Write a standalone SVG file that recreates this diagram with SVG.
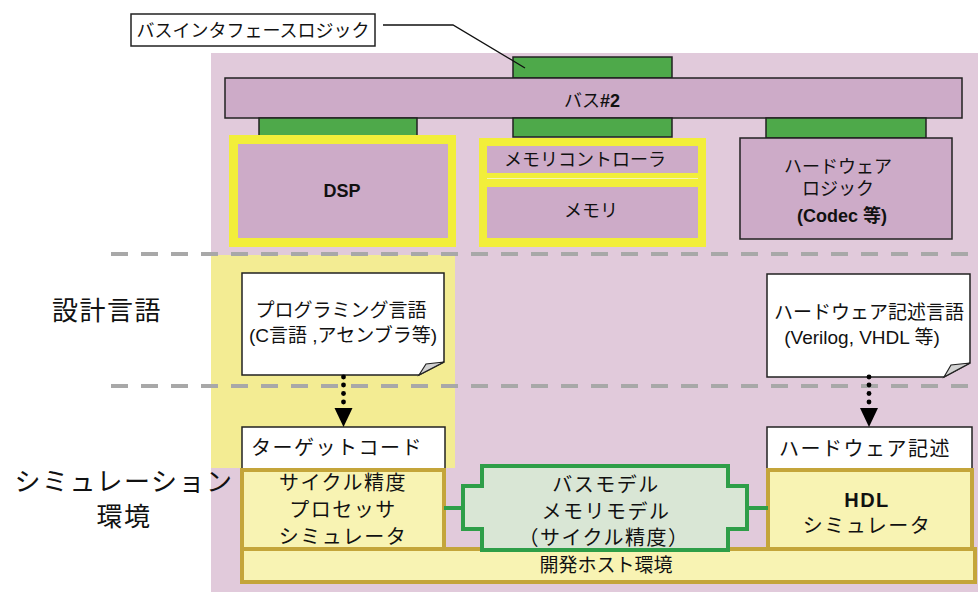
<svg xmlns="http://www.w3.org/2000/svg" width="978" height="592" viewBox="0 0 978 592">
<defs>
<style>
text{font-family:"Liberation Sans","Noto Sans CJK JP",sans-serif;fill:#111;text-anchor:middle}
.purple{fill:#cdabc8}
.pb{fill:#cdabc8;stroke:#222;stroke-width:1.5}
.green{fill:#4ea94a;stroke:#222;stroke-width:1.5}
.note{fill:#fff;stroke:#222;stroke-width:1.5}
.fold{fill:#d2d2d2;stroke:#222;stroke-width:1.2}
.box{fill:#fff;stroke:#222;stroke-width:1.5}
.sim{fill:#f8f3b3;stroke:#c4a53a;stroke-width:4}
.sep{stroke:#a8a8a8;stroke-width:4;stroke-dasharray:17 13;fill:none}
.dot{fill:#000}
.t18{font-size:18px}
.t19{font-size:19px}
.t20{font-size:20px;letter-spacing:1.5px}
.big{font-size:26px;letter-spacing:1.5px}
.b{font-weight:bold}
</style>
</defs>

<!-- backgrounds -->
<rect x="211" y="53" width="767" height="539" fill="#e1cadb"/>
<rect x="211" y="255" width="244" height="213" fill="#f3ec93"/>

<!-- side labels -->
<text class="big" x="107" y="320">設計言語</text>
<text class="big" x="124" y="491">シミュレーション</text>
<text class="big" x="124" y="526">環境</text>

<!-- separators -->
<line class="sep" x1="111" y1="254" x2="978" y2="254"/>
<line class="sep" x1="111" y1="386" x2="978" y2="386"/>

<g id="bus-if-label">
<rect x="131" y="14" width="244" height="32" fill="#fff" stroke="#222" stroke-width="1.5"/>
<text class="t18" x="253" y="37">バスインタフェースロジック</text>
</g>

<g id="bus-if-top"><rect class="green" x="513" y="57" width="159" height="21"/></g>
<g id="bus2">
<rect class="pb" x="225" y="78" width="737" height="40"/>
<text class="t18" x="592" y="107">バス<tspan class="b">#2</tspan></text>
</g>
<g id="bus-if-1"><rect class="green" x="259" y="118" width="158" height="19"/></g>
<g id="bus-if-2"><rect class="green" x="513" y="118" width="159" height="19"/></g>
<g id="bus-if-3"><rect class="green" x="766" y="118" width="160" height="20"/></g>

<g id="dsp">
<rect x="229" y="135" width="227" height="112" fill="#f2ee3a"/>
<rect class="purple" x="238" y="144" width="210" height="94"/>
<text class="t18 b" x="342" y="197">DSP</text>
</g>

<g id="memory">
<rect x="479" y="138" width="227" height="109" fill="#f2ee3a"/>
<rect class="purple" x="487" y="146" width="211" height="27"/>
<line x1="487" y1="178.5" x2="698" y2="178.5" stroke="#f6f3b8" stroke-width="1"/>
<rect class="purple" x="487" y="187" width="211" height="51"/>
<text class="t18" x="585" y="166">メモリコントローラ</text>
<text class="t18" x="591" y="217">メモリ</text>
</g>

<g id="hw-logic">
<rect class="pb" x="740" y="138" width="212" height="101"/>
<text class="t18" x="838" y="173">ハードウェア</text>
<text class="t18" x="838" y="195">ロジック</text>
<text class="t18 b" x="842" y="222">(Codec 等)</text>
</g>

<g id="prog-lang">
<path class="note" d="M242,273 H444 V362 L419,375 H242 Z"/>
<path class="fold" d="M419,375 L426,364 L444,362 Z"/>
<text class="t19" x="341" y="317">プログラミング言語</text>
<text class="t19" x="343" y="342">(C言語 ,アセンブラ等)</text>
</g>

<g id="hdl-lang">
<path class="note" d="M767,274 H970 V363 L944,377 H767 Z"/>
<path class="fold" d="M944,377 L951,365 L970,363 Z"/>
<text class="t19" x="869" y="319">ハードウェア記述言語</text>
<text class="t19" x="862" y="344">(Verilog, VHDL 等)</text>
</g>

<g id="target-code">
<rect class="box" x="242" y="427" width="203" height="42"/>
<text class="t20" x="337" y="455">ターゲットコード</text>
</g>

<g id="hw-desc">
<rect class="box" x="767" y="427" width="205" height="42"/>
<text class="t20" x="865" y="456">ハードウェア記述</text>
</g>

<g id="host">
<rect class="sim" x="242" y="549" width="733" height="33"/>
<text class="t19" x="606" y="572">開発ホスト環境</text>
</g>

<g id="cpu-sim">
<rect class="sim" x="242" y="470" width="202" height="79"/>
<text class="t20" x="343" y="490">サイクル精度</text>
<text class="t20" x="343" y="517">プロセッサ</text>
<text class="t20" x="343" y="544">シミュレータ</text>
</g>

<g id="hdl-sim">
<rect class="sim" x="768" y="470" width="204" height="79"/>
<text class="t20 b" x="867" y="507">HDL</text>
<text class="t20" x="867" y="533">シミュレータ</text>
</g>

<g id="connectors" fill="none">
<polyline points="383,25 453,25 525,68" stroke="#111" stroke-width="1.3"/>
<g class="dot">
<circle cx="343.5" cy="377" r="2.4"/><circle cx="343.5" cy="385" r="2.4"/><circle cx="343.5" cy="393.5" r="2.4"/><circle cx="343.5" cy="402" r="2.4"/>
<circle cx="869" cy="377" r="2.4"/><circle cx="869" cy="385" r="2.4"/><circle cx="869" cy="393.5" r="2.4"/><circle cx="869" cy="402" r="2.4"/>
</g>
<path d="M334.5,408 L352.5,408 L343.5,427 Z" fill="#000" stroke="none"/>
<path d="M860,408 L878,408 L869,427 Z" fill="#000" stroke="none"/>
<line x1="444" y1="508" x2="463" y2="508" stroke="#2e9e48" stroke-width="4"/>
<line x1="747" y1="508" x2="768" y2="508" stroke="#2e9e48" stroke-width="4"/>
</g>

<g id="bus-model">
<path d="M482,466 H728 V486 H747 V529 H728 V550 H482 V529 H463 V486 H482 Z" fill="#d9e6d5" stroke="#2e9e48" stroke-width="4"/>
<text class="t20" x="606" y="492">バスモデル</text>
<text class="t20" x="606" y="519">メモリモデル</text>
<text class="t20" x="604" y="545">（サイクル精度）</text>
</g>
</svg>
